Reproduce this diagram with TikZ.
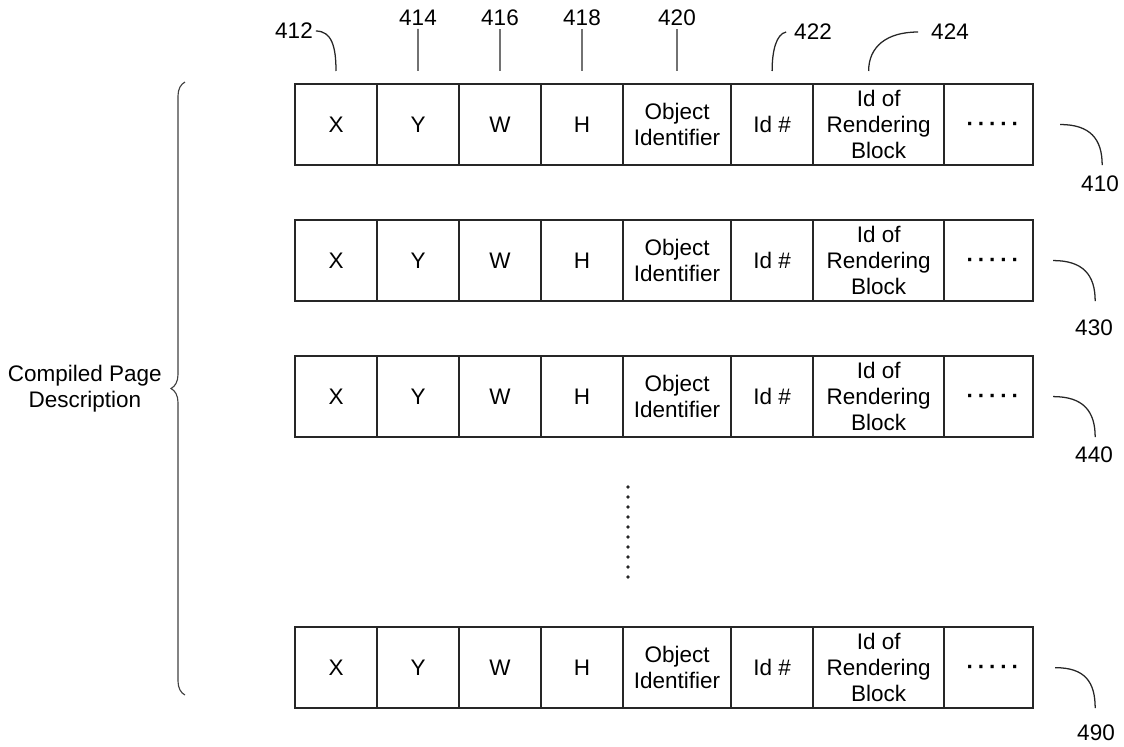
\documentclass[tikz,border=0pt]{standalone}
\usepackage{fontspec}
\setmainfont{Liberation Sans}
\usetikzlibrary{positioning,calc,decorations.pathreplacing}

\begin{document}
\begin{tikzpicture}[
    x=0.025cm, y=-0.025cm,
    node distance=1.375cm,
    every node/.style={font=\fontsize{16}{18.5}\selectfont},
    fieldbox/.style={
      rectangle, draw=black!85, line width=1.2pt, inner sep=0pt, outer sep=0pt,
      minimum width=2.05cm, minimum height=2.025cm, align=center
    },
    objbox/.style={fieldbox, minimum width=2.7cm},
    rendbox/.style={fieldbox, minimum width=3.275cm},
    morebox/.style={fieldbox, minimum width=2.225cm, text width=1.525cm,
      align=right, inner xsep=0.35cm},
    refnum/.style={inner sep=2pt},
    leader/.style={line width=0.9pt, black!85}
  ]
    \useasboundingbox (0,0) rectangle (1124,746);

    % ── Record 410 ──
    \node[fieldbox] (x1) at (336,124.5) {X};
    \node[fieldbox, right=0pt of x1] (y1) {Y};
    \node[fieldbox, right=0pt of y1] (w1) {W};
    \node[fieldbox, right=0pt of w1] (h1) {H};
    \node[objbox, right=0pt of h1] (obj1) {Object\\Identifier};
    \node[fieldbox, right=0pt of obj1] (id1) {Id \#};
    \node[rendbox, right=0pt of id1] (rend1) {Id of\\Rendering\\Block};
    \node[morebox, right=0pt of rend1] (more1) {\raisebox{-5pt}[0pt][0pt]{\bfseries ·\,·\,·\,·\,·}};

    % ── Record 430 ──
    \node[fieldbox, below=of x1] (x2) {X};
    \node[fieldbox, right=0pt of x2] (y2) {Y};
    \node[fieldbox, right=0pt of y2] (w2) {W};
    \node[fieldbox, right=0pt of w2] (h2) {H};
    \node[objbox, right=0pt of h2] (obj2) {Object\\Identifier};
    \node[fieldbox, right=0pt of obj2] (id2) {Id \#};
    \node[rendbox, right=0pt of id2] (rend2) {Id of\\Rendering\\Block};
    \node[morebox, right=0pt of rend2] (more2) {\raisebox{-5pt}[0pt][0pt]{\bfseries ·\,·\,·\,·\,·}};

    % ── Record 440 ──
    \node[fieldbox, below=of x2] (x3) {X};
    \node[fieldbox, right=0pt of x3] (y3) {Y};
    \node[fieldbox, right=0pt of y3] (w3) {W};
    \node[fieldbox, right=0pt of w3] (h3) {H};
    \node[objbox, right=0pt of h3] (obj3) {Object\\Identifier};
    \node[fieldbox, right=0pt of obj3] (id3) {Id \#};
    \node[rendbox, right=0pt of id3] (rend3) {Id of\\Rendering\\Block};
    \node[morebox, right=0pt of rend3] (more3) {\raisebox{-5pt}[0pt][0pt]{\bfseries ·\,·\,·\,·\,·}};

    % ── Record 490 ──
    \node[fieldbox, below=4.75cm of x3] (x4) {X};
    \node[fieldbox, right=0pt of x4] (y4) {Y};
    \node[fieldbox, right=0pt of y4] (w4) {W};
    \node[fieldbox, right=0pt of w4] (h4) {H};
    \node[objbox, right=0pt of h4] (obj4) {Object\\Identifier};
    \node[fieldbox, right=0pt of obj4] (id4) {Id \#};
    \node[rendbox, right=0pt of id4] (rend4) {Id of\\Rendering\\Block};
    \node[morebox, right=0pt of rend4] (more4) {\raisebox{-5pt}[0pt][0pt]{\bfseries ·\,·\,·\,·\,·}};

    % ── Records left out ──
    \draw[line width=2.6pt, line cap=round, dash pattern=on 0pt off 0.25cm, black!85]
      (628,487) -- (628,578);

    % ── Field numbers ──
    \node[refnum] (n412) at (294,31) {412};
    \node[refnum] (n414) at (418,18) {414};
    \node[refnum] (n416) at (500,18) {416};
    \node[refnum] (n418) at (582,18) {418};
    \node[refnum] (n420) at (677,18) {420};
    \node[refnum] (n422) at (813,32) {422};
    \node[refnum] (n424) at (950,32) {424};

    \draw[leader] (n412.east) .. controls +(16,0) and +(0,-24) .. ($(x1.north)+(0,-13)$);
    \draw[leader] (n414) -- ($(y1.north)+(0,-13)$);
    \draw[leader] (n416) -- ($(w1.north)+(0,-13)$);
    \draw[leader] (n418) -- ($(h1.north)+(0,-13)$);
    \draw[leader] (n420) -- ($(obj1.north)+(0,-13)$);
    \draw[leader] ($(n422.west)+(-5,0)$) .. controls +(-10,2) and +(0,-20) .. ($(id1.north)+(0,-13)$);
    \draw[leader] ($(n424.west)+(-10,0)$) .. controls +(-32,0) and +(0,-24) .. ($(rend1.north)+(-10,-13)$);

    % ── Record numbers ──
    \node[refnum] (n410) at (1100,184) {410};
    \node[refnum] (n430) at (1094,328) {430};
    \node[refnum] (n440) at (1094,455) {440};
    \node[refnum] (n490) at (1096,733) {490};

    \draw[leader] ($(more1.east)+(27,0)$) .. controls +(30,0) and +(0,-26) .. ($(more1.south east)+(69,0)$);
    \draw[leader] ($(more2.east)+(20,0)$) .. controls +(30,0) and +(0,-26) .. ($(more2.south east)+(62,0)$);
    \draw[leader] ($(more3.east)+(20,0)$) .. controls +(30,0) and +(0,-26) .. ($(more3.south east)+(62,0)$);
    \draw[leader] ($(more4.east)+(22,0)$) .. controls +(30,0) and +(0,-26) .. ($(more4.south east)+(62,0)$);

    % ── Page description brace ──
    \coordinate (btop) at (185,82);
    \coordinate (bbot) at (185,695);
    \draw[decorate, decoration={brace, amplitude=0.35cm}, line width=0.8pt, black!75]
      (bbot) -- node[left=0.45cm, align=center, black] (cpd) {Compiled Page\\Description} (btop);

  \end{tikzpicture}
\end{document}
